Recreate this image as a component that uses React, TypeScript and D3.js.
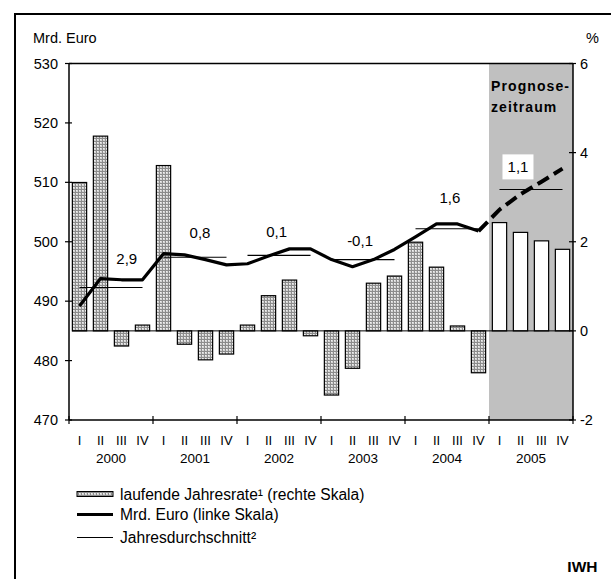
import React from "react";
import * as d3 from "d3";

const quarters = ["I", "II", "III", "IV"];
const years = ["2000", "2001", "2002", "2003", "2004", "2005"];
// laufende Jahresrate (%), rechte Skala
const rate = [
  3.33, 4.37, -0.34, 0.13,
  3.71, -0.3, -0.65, -0.52,
  0.13, 0.79, 1.14, -0.11,
  -1.44, -0.84, 1.07, 1.23,
  1.99, 1.43, 0.11, -0.94,
  2.43, 2.21, 2.02, 1.83,
];
// Mrd. Euro, linke Skala
const level = [
  489.2, 493.8, 493.6, 493.6,
  498.0, 497.8, 497.0, 496.1,
  496.3, 497.6, 498.8, 498.8,
  497.0, 495.8, 497.0, 498.7,
  500.8, 503.0, 503.0, 501.8,
  505.4, 508.0, 510.1, 512.3,
];
// Jahresdurchschnitt (Mrd. Euro)
const annualAvg = [492.3, 497.4, 497.7, 497.0, 502.2, 508.8];
const annualLabel = ["2,9", "0,8", "0,1", "-0,1", "1,6", "1,1"];
// label anchor: quarter position, left-scale value
const labelQ = [2.75, 6.24, 9.89, 13.86, 18.14, 21.38];
const labelV = [497.1, 501.5, 501.7, 500.2, 507.4, 512.6];
const leftTicks = [470, 480, 490, 500, 510, 520, 530];
const rightTicks = [-2, 0, 2, 4, 6];
const forecastStart = 20;

const FONT = "'Liberation Sans', Arial, Helvetica, sans-serif";

export default function App() {
  const n = rate.length;
  const x0 = 69,
    x1 = 573,
    yTop = 63.5,
    yBot = 420;
  const idx = d3.range(n);
  const xb = d3
    .scaleBand<number>()
    .domain(idx)
    .range([x0, x1])
    .paddingInner(0.32)
    .paddingOuter(0.16);
  const xq = d3.scaleLinear().domain([0, n]).range([x0, x1]);
  const cx = (i: number) => xq(i + 0.5);
  const yL = d3.scaleLinear().domain([470, 530]).range([yBot, yTop]);
  const yR = d3.scaleLinear().domain([-2, 6]).range([yBot, yTop]);

  const line = d3
    .line<number>()
    .x((_, i) => cx(i))
    .y((d) => yL(d));
  const solidPts = level.slice(0, forecastStart);
  const dashLine = d3
    .line<number>()
    .x((_, i) => cx(i + forecastStart - 1))
    .y((d) => yL(d));
  const dashPts = level.slice(forecastStart - 1);

  return (
    <svg
      width={611}
      height={579}
      style={{ position: "absolute", left: 0, top: 0, background: "#fff" }}
      fontFamily={FONT}
    >
      <defs>
        <pattern id="dots" width={3} height={3} patternUnits="userSpaceOnUse">
          <rect width={3} height={3} fill="#d4d4d4" />
          <rect width={3} height={1} fill="#8c8c8c" />
          <rect width={1} height={3} fill="#8c8c8c" />
          <rect x={1} y={1} width={1} height={1} fill="#f0f0f0" />
        </pattern>
      </defs>
      {/* outer frame */}
      <rect x={15} y={14} width={610} height={600} fill="none" stroke="#000" strokeWidth={2} />

      {/* forecast region */}
      <rect
        x={xq(forecastStart)}
        y={yTop}
        width={xq(n) - xq(forecastStart)}
        height={yBot - yTop}
        fill="#c0c0c0"
      />
      <text x={xq(forecastStart) + 2} y={90.5} fontSize={14} fontWeight="bold" letterSpacing={1.1}>
        Prognose-
      </text>
      <text x={xq(forecastStart) + 2} y={111.5} fontSize={14} fontWeight="bold" letterSpacing={1.1}>
        zeitraum
      </text>

      {/* bars */}
      {rate.map((v, i) => (
        <rect
          key={i}
          x={xb(i)}
          width={xb.bandwidth()}
          y={yR(Math.max(v, 0))}
          height={Math.abs(yR(v) - yR(0))}
          fill={i >= forecastStart ? "#fff" : "url(#dots)"}
          stroke="#000"
          strokeWidth={1.2}
        />
      ))}
      {/* zero baseline */}
      <line x1={x0 + 3} x2={x1} y1={yR(0)} y2={yR(0)} stroke="#000" strokeWidth={1} />

      {/* annual average lines */}
      {annualAvg.map((v, k) => (
        <line
          key={k}
          x1={cx(k * 4)}
          x2={cx(k * 4 + 3)}
          y1={yL(v)}
          y2={yL(v)}
          stroke="#000"
          strokeWidth={1.1}
        />
      ))}

      {/* level line */}
      <path d={line(solidPts) || ""} fill="none" stroke="#000" strokeWidth={3.2} strokeLinejoin="round" />
      <path
        d={dashLine(dashPts) || ""}
        fill="none"
        stroke="#000"
        strokeWidth={4}
        strokeDasharray="13,6"
      />

      {/* annual labels */}
      {annualLabel.map((t, k) => {
        const lx = xq(labelQ[k]);
        const ly = yL(labelV[k]);
        return (
          <g key={k}>
            {k === annualLabel.length - 1 && (
              <rect x={lx - 15.5} y={ly - 12.5} width={31} height={25} fill="#fff" />
            )}
            <text x={lx} y={ly + 5.5} fontSize={15} textAnchor="middle">
              {t}
            </text>
          </g>
        );
      })}

      {/* plot frame */}
      <line x1={x0} x2={x1} y1={yTop} y2={yTop} stroke="#000" strokeWidth={1.5} />
      <line x1={x0} x2={x1} y1={yBot} y2={yBot} stroke="#000" strokeWidth={1.5} />
      <line x1={x0} x2={x0} y1={yTop} y2={yBot} stroke="#000" strokeWidth={1.5} />
      <line x1={x1} x2={x1} y1={yTop} y2={yBot} stroke="#000" strokeWidth={1.5} />

      {/* left axis */}
      {leftTicks.map((t) => (
        <g key={t}>
          <line x1={x0 - 4} x2={x0 + 3} y1={yL(t)} y2={yL(t)} stroke="#000" strokeWidth={1.2} />
          <text x={58} y={yL(t) + 5} fontSize={14.5} textAnchor="end">
            {t}
          </text>
        </g>
      ))}
      <text x={33} y={43} fontSize={14.5}>
        Mrd. Euro
      </text>

      {/* right axis */}
      {rightTicks.map((t) => (
        <g key={t}>
          <line x1={x1 - 4} x2={x1 + 3} y1={yR(t)} y2={yR(t)} stroke="#000" strokeWidth={1.2} />
          <text x={580} y={yR(t) + 5} fontSize={14.5}>
            {t}
          </text>
        </g>
      ))}
      <text x={586} y={43} fontSize={14.5}>
        %
      </text>

      {/* x axis */}
      {d3.range(years.length + 1).map((k) => (
        <line
          key={k}
          x1={xq(k * 4)}
          x2={xq(k * 4)}
          y1={yBot - 4}
          y2={yBot + 4}
          stroke="#000"
          strokeWidth={1.2}
        />
      ))}
      {idx.map((i) => (
        <text key={i} x={cx(i)} y={445} fontSize={13} textAnchor="middle">
          {quarters[i % 4]}
        </text>
      ))}
      {years.map((y, k) => (
        <text key={y} x={xq(k * 4 + 2)} y={463} fontSize={13.5} textAnchor="middle">
          {y}
        </text>
      ))}

      {/* legend */}
      <rect x={77} y={491.5} width={36} height={5} fill="url(#dots)" stroke="#000" strokeWidth={1} />
      <text x={120} y={499.5} fontSize={15.6}>
        laufende Jahresrate¹ (rechte Skala)
      </text>
      <line x1={77} x2={113} y1={514.5} y2={514.5} stroke="#000" strokeWidth={3} />
      <text x={120} y={520} fontSize={15.6}>
        Mrd. Euro (linke Skala)
      </text>
      <line x1={77} x2={113} y1={537.5} y2={537.5} stroke="#000" strokeWidth={1.1} />
      <text x={120} y={543} fontSize={15.6}>
        Jahresdurchschnitt²
      </text>

      <text x={597.5} y={571.5} fontSize={15.5} fontWeight="bold" textAnchor="end">
        IWH
      </text>
    </svg>
  );
}
